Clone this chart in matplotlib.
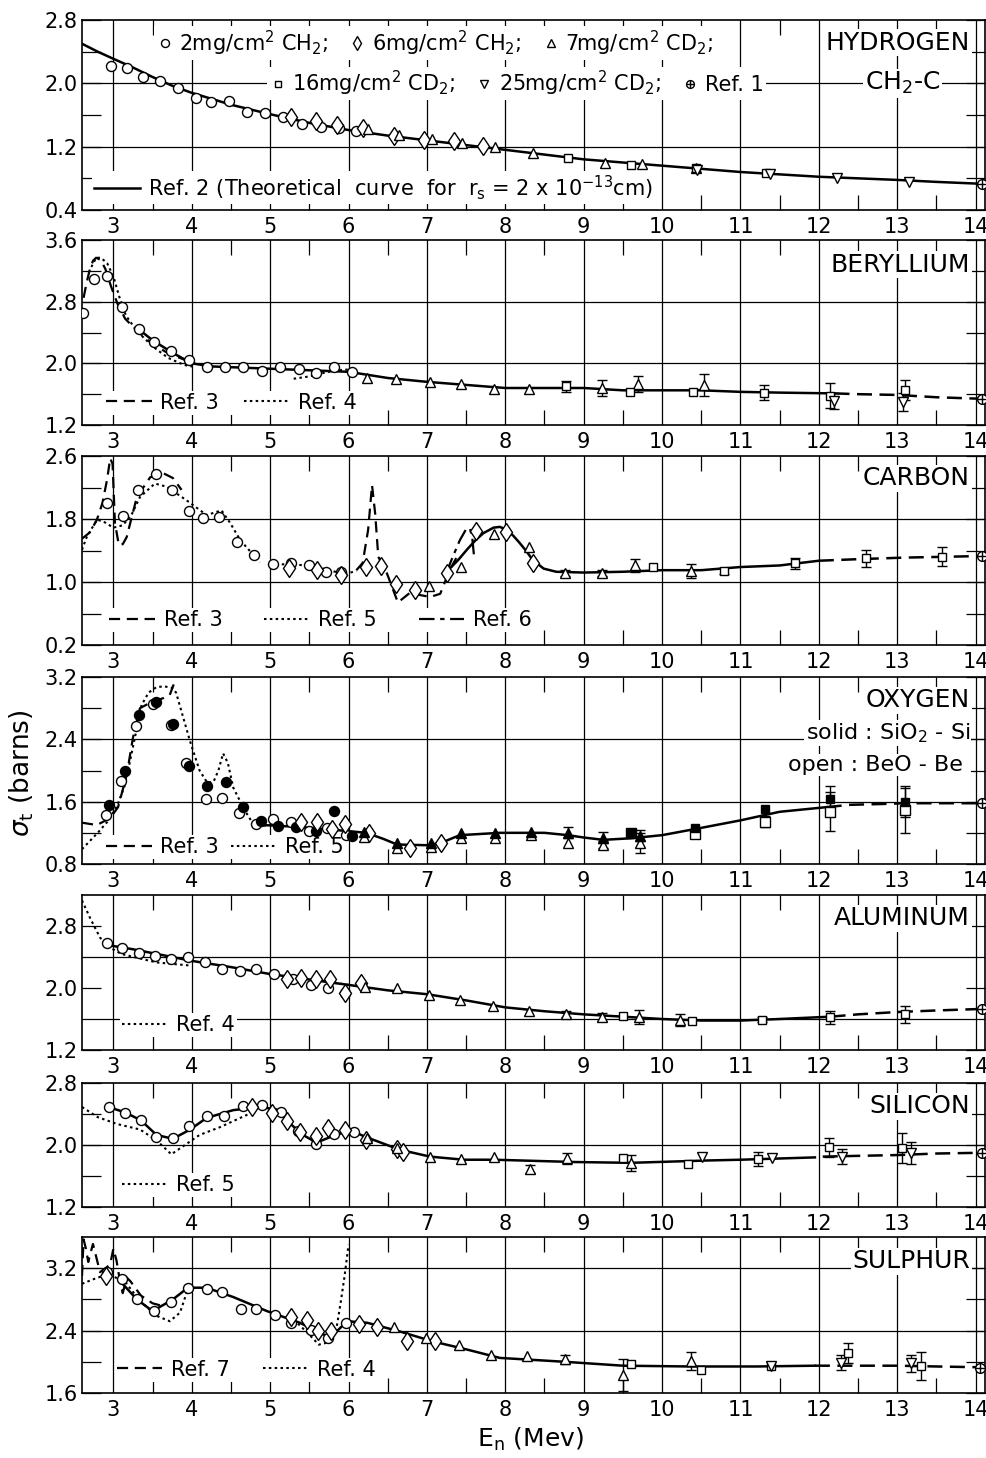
import matplotlib.pyplot as plt
import numpy as np

plt.rcParams['font.family'] = 'DejaVu Sans'
plt.rcParams['mathtext.fontset'] = 'dejavusans'

# ---------------- data (E_n in MeV, sigma_t in barns) ----------------
# Hydrogen
h_circ_x = [2.97, 3.18, 3.38, 3.60, 3.83, 4.06, 4.25, 4.47, 4.71, 4.94, 5.17, 5.41, 5.65, 5.88, 6.10]
h_circ_y = [2.22, 2.19, 2.08, 2.03, 1.94, 1.81, 1.76, 1.78, 1.64, 1.63, 1.58, 1.49, 1.45, 1.43, 1.40]
h_diam_x = [5.27, 5.59, 5.85, 6.19, 6.58, 6.96, 7.35, 7.72]
h_diam_y = [1.57, 1.52, 1.47, 1.43, 1.34, 1.28, 1.27, 1.21]
h_tri_x = [6.25, 6.65, 7.07, 7.45, 7.87, 8.35, 9.27, 9.75, 10.43]
h_tri_y = [1.42, 1.35, 1.30, 1.25, 1.19, 1.12, 1.00, 0.98, 0.93]
h_sq_x = [8.80, 9.60, 10.43, 11.32]
h_sq_y = [1.06, 0.97, 0.93, 0.87]
h_inv_x = [10.44, 11.38, 12.23, 13.15]
h_inv_y = [0.90, 0.85, 0.80, 0.76]
h_ref1 = (14.08, 0.73)
h_curve_x = [2.6, 2.8, 3.0, 3.25, 3.5, 3.75, 4.0, 4.5, 5.0, 5.5, 6.0, 6.5, 7.0, 7.5, 8.0,
             8.5, 9.0, 9.5, 10.0, 10.5, 11.0, 11.5, 12.0, 12.5, 13.0, 13.5, 14.1]
h_curve_y = [2.50, 2.40, 2.31, 2.20, 2.08, 1.97, 1.88, 1.73, 1.61, 1.50, 1.41, 1.34, 1.28, 1.22, 1.16,
             1.10, 1.04, 1.00, 0.96, 0.92, 0.88, 0.85, 0.82, 0.80, 0.78, 0.755, 0.73]

# Beryllium
be_circ_x = [2.61, 2.75, 2.92, 3.11, 3.33, 3.52, 3.74, 3.96, 4.19, 4.43, 4.66, 4.89, 5.12, 5.37, 5.59, 5.82, 6.05]
be_circ_y = [2.65, 3.09, 3.13, 2.73, 2.45, 2.28, 2.16, 2.04, 1.95, 1.95, 1.95, 1.90, 1.95, 1.93, 1.88, 1.95, 1.89]
be_tri_x = [6.23, 6.60, 7.04, 7.43, 7.85, 8.30, 9.24, 9.69, 10.54]
be_tri_y = [1.81, 1.80, 1.76, 1.73, 1.67, 1.67, 1.68, 1.73, 1.72]
be_tri_e = [0, 0, 0, 0, 0, 0, 0.10, 0.10, 0.14]
be_sq_x = [8.77, 9.59, 10.39, 11.30, 12.14, 13.10]
be_sq_y = [1.70, 1.63, 1.63, 1.62, 1.58, 1.66]
be_sq_e = [0.07, 0, 0, 0.10, 0.16, 0.13]
be_inv_x = [12.20, 13.08]
be_inv_y = [1.51, 1.50]
be_inv_e = [0.10, 0.12]
be_ref1 = (14.08, 1.54)
be_solid_x = [3.3, 3.5, 3.75, 4.0, 4.25, 4.5, 5.0, 5.5, 6.0, 6.5, 7.0, 7.5, 8.0, 8.5, 9.0,
              9.5, 10.0, 10.5, 11.0, 11.5, 12.2]
be_solid_y = [2.46, 2.30, 2.14, 2.00, 1.96, 1.95, 1.93, 1.91, 1.89, 1.81, 1.76, 1.72, 1.68, 1.68, 1.68,
              1.65, 1.65, 1.65, 1.63, 1.62, 1.61]
be_dash_x = [12.2, 12.5, 13.0, 13.5, 14.08]
be_dash_y = [1.61, 1.60, 1.59, 1.56, 1.54]
be_ref3_x = [2.62, 2.66, 2.70, 2.74, 2.78, 2.84, 2.90, 2.97, 3.05, 3.15, 3.3, 3.5, 3.7, 3.9, 4.05]
be_ref3_y = [2.85, 3.05, 3.22, 3.33, 3.37, 3.34, 3.22, 3.00, 2.78, 2.58, 2.42, 2.25, 2.13, 2.05, 1.99]
be_ref4_x = [2.72, 2.78, 2.84, 2.92, 3.0, 3.08, 3.16, 3.3, 3.5, 3.7, 3.9, 4.05]
be_ref4_y = [3.25, 3.37, 3.37, 3.30, 3.13, 2.85, 2.62, 2.42, 2.22, 2.07, 1.98, 1.95]
be_ref4b_x = [5.3, 5.5, 5.7, 5.85, 6.0]
be_ref4b_y = [1.80, 1.83, 1.88, 1.91, 1.92]

# Carbon
c_circ_x = [2.92, 3.12, 3.32, 3.54, 3.75, 3.96, 4.15, 4.35, 4.58, 4.80, 5.04, 5.27, 5.50, 5.71, 5.90]
c_circ_y = [2.00, 1.84, 2.17, 2.37, 2.17, 1.90, 1.81, 1.83, 1.51, 1.34, 1.23, 1.24, 1.21, 1.13, 1.13]
c_diam_x = [5.24, 5.60, 5.90, 6.22, 6.42, 6.60, 6.85, 7.26, 7.63, 8.01, 8.35]
c_diam_y = [1.18, 1.15, 1.09, 1.19, 1.20, 0.97, 0.90, 1.12, 1.65, 1.64, 1.24]
c_tri_x = [7.03, 7.43, 7.86, 8.30, 8.76, 9.23, 9.66, 10.37]
c_tri_y = [0.95, 1.19, 1.61, 1.44, 1.11, 1.11, 1.21, 1.14]
c_tri_e = [0, 0, 0, 0, 0.04, 0.04, 0.08, 0.09]
c_sq_x = [9.89, 10.79, 11.70, 12.60, 13.57]
c_sq_y = [1.19, 1.14, 1.24, 1.30, 1.32]
c_sq_e = [0, 0.04, 0.07, 0.11, 0.12]
c_ref1 = (14.08, 1.33)
c_solid_x = [7.27, 7.4, 7.51, 7.62, 7.72, 7.85, 7.93, 8.0, 8.1, 8.18, 8.27, 8.35, 8.49, 8.65,
             9.0, 9.5, 10.0, 10.5, 11.0, 11.5, 12.0]
c_solid_y = [1.15, 1.28, 1.41, 1.53, 1.62, 1.69, 1.70, 1.67, 1.59, 1.50, 1.39, 1.28, 1.17, 1.13,
             1.12, 1.13, 1.15, 1.15, 1.19, 1.21, 1.27]
c_dash_x = [12.0, 12.5, 13.1, 13.6, 14.08]
c_dash_y = [1.27, 1.29, 1.31, 1.32, 1.33]
c_ref3_x = [2.6, 2.7, 2.79, 2.86, 2.92, 2.96, 2.99, 3.02, 3.07, 3.12, 3.17, 3.3, 3.47, 3.64, 3.76, 3.87]
c_ref3_y = [1.55, 1.63, 1.79, 2.00, 2.30, 2.57, 2.50, 1.75, 1.47, 1.48, 1.57, 2.08, 2.33, 2.38, 2.32, 2.17]
c_ref3b_x = [6.10, 6.18, 6.25, 6.30, 6.34, 6.38, 6.49, 6.63, 6.78, 7.04, 7.17, 7.29, 7.4]
c_ref3b_y = [1.15, 1.24, 1.66, 2.23, 1.87, 1.32, 1.11, 0.74, 0.86, 0.81, 0.85, 1.15, 1.35]
c_ref5_x = [2.6, 2.66, 2.79, 2.87, 3.0, 3.12, 3.23, 3.34, 3.53, 3.68, 3.93, 4.19, 4.38, 4.49, 4.62, 4.87]
c_ref5_y = [1.41, 1.57, 1.79, 1.77, 1.69, 1.72, 1.85, 2.08, 2.25, 2.21, 2.04, 1.85, 1.91, 1.75, 1.53, 1.25]
c_ref5b_x = [5.0, 5.3, 5.5, 5.75, 5.95, 6.1]
c_ref5b_y = [1.23, 1.22, 1.21, 1.15, 1.10, 1.14]
c_ref6_x = [7.25, 7.33, 7.42, 7.50, 7.55, 7.58, 7.60]
c_ref6_y = [1.12, 1.32, 1.53, 1.67, 1.68, 1.55, 1.34]

# Oxygen (solid: SiO2-Si, open: BeO-Be)
o_fcirc_x = [2.94, 3.15, 3.33, 3.54, 3.76, 3.96, 4.20, 4.44, 4.65, 4.88, 5.10, 5.33, 5.58, 5.82, 6.05]
o_fcirc_y = [1.56, 2.00, 2.71, 2.88, 2.60, 2.06, 1.80, 1.85, 1.53, 1.35, 1.29, 1.28, 1.22, 1.48, 1.16]
o_ocirc_x = [2.91, 3.10, 3.29, 3.51, 3.73, 3.93, 4.18, 4.38, 4.60, 4.82, 5.04, 5.27, 5.49, 5.72, 5.97]
o_ocirc_y = [1.43, 1.87, 2.57, 2.85, 2.58, 2.10, 1.64, 1.65, 1.46, 1.31, 1.38, 1.34, 1.22, 1.26, 1.17]
o_diam_x = [5.39, 5.60, 5.79, 5.95, 6.26, 6.78, 7.18]
o_diam_y = [1.34, 1.34, 1.25, 1.31, 1.20, 1.01, 1.07]
o_tri_x = [6.20, 6.62, 7.05, 7.43, 7.87, 8.33, 8.80, 9.25, 9.72]
o_ftri_y = [1.21, 1.07, 1.07, 1.20, 1.20, 1.21, 1.20, 1.14, 1.16]
o_ftri_e = [0, 0, 0, 0, 0, 0, 0.07, 0.07, 0.07]
o_otri_y = [1.15, 1.01, 1.02, 1.13, 1.13, 1.17, 1.07, 1.05, 1.07]
o_otri_e = [0, 0, 0, 0, 0, 0, 0, 0.05, 0.13]
o_sq_x = [9.60, 10.42, 11.31, 12.14, 13.10]
o_fsq_y = [1.20, 1.26, 1.50, 1.64, 1.60]
o_fsq_e = [0, 0, 0, 0.16, 0.20]
o_osq_y = [1.20, 1.18, 1.34, 1.47, 1.49]
o_osq_e = [0, 0, 0.07, 0.25, 0.29]
o_ref1 = (14.08, 1.58)
o_solid_x = [4.91, 5.3, 5.8, 6.23, 6.45, 6.62, 7.04, 7.25, 7.42, 7.93, 8.5, 8.8, 9.0, 9.25, 9.6,
             10.0, 10.48, 11.0, 11.5, 12.1]
o_solid_y = [1.30, 1.28, 1.24, 1.20, 1.12, 1.05, 1.04, 1.10, 1.17, 1.20, 1.20, 1.17, 1.14, 1.11, 1.13,
             1.17, 1.26, 1.36, 1.47, 1.53]
o_dash_x = [12.1, 12.4, 12.8, 13.1, 13.5, 14.08]
o_dash_y = [1.53, 1.56, 1.57, 1.58, 1.58, 1.58]
o_ref3_x = [2.6, 2.79, 2.96, 3.06, 3.17, 3.25, 3.34, 3.47, 3.64, 3.72, 3.79]
o_ref3_y = [1.33, 1.30, 1.39, 1.53, 1.94, 2.42, 2.80, 2.87, 2.93, 2.97, 3.16]
o_ref5_x = [2.6, 2.8, 2.94, 3.05, 3.15, 3.26, 3.36, 3.45, 3.55, 3.65, 3.75, 3.8, 3.9, 3.98, 4.1,
            4.2, 4.28, 4.34, 4.40, 4.46, 4.53, 4.62, 4.7, 4.78, 4.96]
o_ref5_y = [0.99, 1.20, 1.36, 1.55, 1.82, 2.35, 2.84, 3.00, 3.07, 3.08, 3.06, 3.00, 2.65, 2.37, 2.00,
            1.84, 1.86, 2.00, 2.22, 2.10, 1.78, 1.60, 1.45, 1.32, 1.29]

# Aluminum
al_circ_x = [2.92, 3.11, 3.33, 3.53, 3.74, 3.95, 4.17, 4.39, 4.62, 4.82, 5.05, 5.29, 5.52, 5.74, 5.96]
al_circ_y = [2.575, 2.52, 2.45, 2.41, 2.38, 2.40, 2.33, 2.24, 2.22, 2.24, 2.18, 2.11, 2.04, 2.00, 1.93]
al_diam_x = [5.22, 5.40, 5.59, 5.76, 5.96, 6.16]
al_diam_y = [2.11, 2.13, 2.11, 2.12, 1.93, 2.06]
al_tri_x = [6.21, 6.62, 7.03, 7.42, 7.84, 8.30, 8.78, 9.24, 9.70, 10.23]
al_tri_y = [2.01, 2.00, 1.91, 1.84, 1.77, 1.70, 1.66, 1.63, 1.63, 1.59]
al_tri_e = [0, 0, 0, 0, 0, 0, 0.04, 0.05, 0.09, 0.08]
al_sq_x = [9.50, 10.38, 11.27, 12.14, 13.10]
al_sq_y = [1.64, 1.58, 1.59, 1.62, 1.66]
al_sq_e = [0, 0, 0.03, 0.08, 0.11]
al_ref1 = (14.08, 1.73)
al_solid_x = [2.95, 3.25, 3.5, 4.0, 4.5, 5.0, 5.5, 6.0, 6.5, 7.0, 7.5, 8.0, 8.5, 9.0, 9.5, 10.0,
              10.5, 11.0, 11.5, 12.15]
al_solid_y = [2.55, 2.50, 2.45, 2.35, 2.27, 2.18, 2.11, 2.04, 1.97, 1.92, 1.84, 1.75, 1.70, 1.66, 1.63, 1.60,
              1.58, 1.58, 1.60, 1.63]
al_dash_x = [12.15, 12.5, 13.0, 13.5, 14.08]
al_dash_y = [1.63, 1.66, 1.69, 1.71, 1.73]
al_ref4_x = [2.6, 2.7, 2.83, 2.96, 3.1, 3.26, 3.55, 3.98]
al_ref4_y = [3.13, 2.91, 2.65, 2.52, 2.44, 2.40, 2.33, 2.29]
al_ref4b_x = [5.6, 5.8, 6.0]
al_ref4b_y = [2.10, 2.07, 2.04]

# Silicon
si_circ_x = [2.94, 3.15, 3.35, 3.55, 3.76, 3.96, 4.19, 4.41, 4.66, 4.89, 5.14, 5.35, 5.59, 5.82, 6.07]
si_circ_y = [2.49, 2.41, 2.32, 2.10, 2.09, 2.24, 2.37, 2.37, 2.50, 2.51, 2.43, 2.18, 2.01, 2.14, 2.17]
si_diam_x = [4.77, 5.03, 5.22, 5.38, 5.59, 5.74, 5.95, 6.22, 6.62, 6.70]
si_diam_y = [2.49, 2.41, 2.31, 2.17, 2.12, 2.22, 2.19, 2.06, 1.95, 1.91]
si_tri_x = [6.23, 6.62, 7.04, 7.43, 7.86, 8.32, 8.79, 9.60]
si_tri_y = [2.09, 1.96, 1.85, 1.82, 1.85, 1.69, 1.83, 1.77]
si_tri_e = [0, 0, 0, 0, 0, 0.05, 0.07, 0.10]
si_sq_x = [9.50, 10.33, 11.23, 12.13, 13.06]
si_sq_y = [1.83, 1.75, 1.82, 1.97, 1.96]
si_sq_e = [0, 0, 0.09, 0.12, 0.19]
si_inv_x = [10.51, 11.40, 12.30, 13.18]
si_inv_y = [1.84, 1.83, 1.85, 1.90]
si_inv_e = [0, 0, 0.10, 0.14]
si_ref1 = (14.08, 1.90)
si_solid_x = [2.94, 3.15, 3.35, 3.55, 3.76, 3.98, 4.19, 4.53, 4.87, 5.08, 5.25, 5.42, 5.59, 5.81, 6.02,
              6.23, 6.65, 7.04, 7.47, 7.86, 8.9, 9.6, 10.57, 11.0, 11.63, 11.95]
si_solid_y = [2.49, 2.42, 2.32, 2.13, 2.08, 2.20, 2.35, 2.45, 2.49, 2.46, 2.28, 2.13, 2.03, 2.12, 2.19,
              2.10, 1.94, 1.85, 1.81, 1.81, 1.78, 1.77, 1.80, 1.81, 1.83, 1.84]
si_dash_x = [12.05, 12.5, 13.0, 13.5, 14.08]
si_dash_y = [1.85, 1.86, 1.87, 1.89, 1.90]
si_ref5_x = [2.6, 2.8, 3.05, 3.34, 3.55, 3.74, 3.87, 4.1, 4.36, 4.75]
si_ref5_y = [2.49, 2.36, 2.27, 2.20, 2.06, 1.88, 1.97, 2.13, 2.23, 2.41]

# Sulphur
s_circ_x = [2.92, 3.11, 3.30, 3.52, 3.73, 3.95, 4.19, 4.38, 4.63, 4.82, 5.06, 5.27, 5.52, 5.74, 5.97]
s_circ_y = [3.15, 3.06, 2.80, 2.65, 2.77, 2.95, 2.93, 2.90, 2.68, 2.68, 2.60, 2.50, 2.41, 2.30, 2.50]
s_diam_x = [2.91, 5.27, 5.47, 5.61, 5.78, 6.14, 6.36, 6.74, 7.10]
s_diam_y = [3.10, 2.58, 2.54, 2.40, 2.39, 2.49, 2.44, 2.27, 2.27]
s_tri_x = [6.58, 6.99, 7.41, 7.82, 8.28, 8.76, 9.50, 10.37]
s_tri_y = [2.45, 2.30, 2.22, 2.09, 2.08, 2.03, 1.83, 2.01]
s_tri_e = [0, 0, 0, 0, 0, 0.06, 0.20, 0.11]
s_sq_x = [9.60, 10.50, 11.39, 12.37, 13.30]
s_sq_y = [1.97, 1.90, 1.94, 2.11, 1.95]
s_sq_e = [0, 0, 0, 0.13, 0.18]
s_inv_x = [11.39, 12.28, 13.17]
s_inv_y = [1.94, 1.99, 1.98]
s_inv_e = [0, 0.10, 0.11]
s_ref1 = (14.06, 1.92)
s_solid_x = [3.10, 3.30, 3.5, 3.76, 3.95, 4.19, 4.53, 4.96, 5.38, 5.64, 5.77, 5.9, 5.99, 6.24, 6.65,
             7.08, 7.5, 7.93, 8.76, 9.5, 10.36, 11.2, 11.95]
s_solid_y = [3.02, 2.80, 2.65, 2.80, 2.95, 2.95, 2.83, 2.65, 2.50, 2.37, 2.31, 2.44, 2.52, 2.50, 2.39,
             2.26, 2.16, 2.05, 2.00, 1.95, 1.94, 1.94, 1.95]
s_dash_x = [11.95, 12.5, 13.0, 13.5, 14.06]
s_dash_y = [1.95, 1.95, 1.95, 1.94, 1.93]
s_ref7_x = [2.6, 2.62, 2.65, 2.68, 2.71, 2.74, 2.78, 2.83, 2.9, 2.96, 3.0, 3.04, 3.08, 3.12, 3.17,
            3.22, 3.35, 3.5, 3.65]
s_ref7_y = [3.10, 3.57, 3.45, 3.28, 3.40, 3.51, 3.35, 3.15, 3.20, 3.25, 3.45, 3.30, 3.06, 2.88, 3.08,
            3.03, 2.85, 2.75, 2.71]
s_ref4_x = [2.6, 2.8, 2.96, 3.17, 3.34, 3.55, 3.72, 3.85, 3.95, 4.0]
s_ref4_y = [3.00, 3.08, 3.12, 3.00, 2.78, 2.59, 2.52, 2.63, 2.93, 3.00]
s_ref4b_x = [5.3, 5.48, 5.62, 5.75, 5.85, 5.9, 5.95, 6.0]
s_ref4b_y = [2.54, 2.37, 2.22, 2.25, 2.45, 2.76, 3.10, 3.50]

# ---------------- styles ----------------
XMIN, XMAX = 2.6, 14.12
DASH = (0, (5, 3))
DOT = (0, (1.2, 1.6))
DASHDOT = (0, (7, 2.5, 2, 2.5))
EXTRA = (0, (6, 3))
FS = 15
MS_O, MS_D, MS_T, MS_S = 7.2, 9.5, 7.5, 6


def frame(ax, ylim, ylab, ygrid, yshort):
    ax.set_xlim(XMIN, XMAX)
    ax.set_ylim(*ylim)
    for x in range(3, 15):
        ax.axvline(x, color='k', lw=0.9, zorder=0.5)
    for y in ygrid:
        ax.axhline(y, color='k', lw=0.9, zorder=0.5)
    ax.set_xticks(range(3, 15))
    ax.set_xticks(np.arange(3.5, 14, 1.0), minor=True)
    ax.set_yticks(ylab)
    ax.set_yticklabels(['%.1f' % v for v in ylab])
    ax.set_yticks([v for v in yshort if v not in ylab], minor=True)
    ax.tick_params(axis='x', which='major', length=0, pad=5, labelsize=FS)
    ax.tick_params(axis='x', which='minor', length=11, width=0.9, direction='in',
                   top=True, bottom=True)
    ax.tick_params(axis='y', which='both', length=14, width=0.9, direction='in',
                   left=True, right=True, labelsize=FS, pad=3)
    for s in ax.spines.values():
        s.set_linewidth(1.2)


def pts(ax, x, y, m, err=None, filled=False, ms=MS_O):
    x = np.asarray(x)
    y = np.asarray(y)
    if err is not None:
        e = np.asarray(err)
        k = e > 0
        ax.errorbar(x[k], y[k], yerr=e[k], fmt='none', ecolor='k', elinewidth=1,
                    capsize=3.5, capthick=1, zorder=3)
    return ax.plot(x, y, ls='none', marker=m, ms=ms, mfc='k' if filled else 'white',
                   mec='k', mew=1, zorder=4)[0]


def ref1(ax, p):
    a = ax.plot([p[0]], [p[1]], ls='none', marker='o', ms=7, mfc='white', mec='k', mew=1, zorder=4)[0]
    b = ax.plot([p[0]], [p[1]], ls='none', marker='+', ms=7, mec='k', mew=1, zorder=5)[0]
    return (a, b)


def curve(ax, x, y, style='-', lw=1.6):
    return ax.plot(x, y, color='k', lw=lw, ls=style, zorder=2)[0]


def reflegend(ax, handles, labels, x, y, **kw):
    opts = dict(loc='center left', bbox_to_anchor=(x, y), ncol=len(handles), frameon=True,
                fancybox=False, edgecolor='none', facecolor='white', framealpha=1, fontsize=FS,
                handlelength=2.2, handletextpad=0.4, columnspacing=1.2, borderpad=0.1,
                borderaxespad=0)
    opts.update(kw)
    lg = ax.legend(handles, labels, **opts)
    lg.set_zorder(3)
    ax.add_artist(lg)
    return lg


def tag(ax, s, y, x=13.93, ha='right', size=18):
    ax.text(x, y, s, ha=ha, va='center', fontsize=size, zorder=3,
            bbox=dict(facecolor='white', edgecolor='none', pad=1))


def pos(top, bot):
    return [82 / 987, 1 - bot / 1458, 903 / 987, (bot - top) / 1458]


fig = plt.figure(figsize=(9.87, 14.58), dpi=100)

# ---- Hydrogen ----
ax = fig.add_axes(pos(20, 210))
frame(ax, (0.4, 2.8), [2.8, 2.0, 1.2, 0.4], [2.0, 1.2], [2.4, 1.6, 0.8])
hl = curve(ax, h_curve_x, h_curve_y, '-', 1.8)
hc = pts(ax, h_circ_x, h_circ_y, 'o')
hd = pts(ax, h_diam_x, h_diam_y, 'd', ms=MS_D)
ht = pts(ax, h_tri_x, h_tri_y, '^', ms=MS_T)
hs = pts(ax, h_sq_x, h_sq_y, 's', ms=MS_S)
hv = pts(ax, h_inv_x, h_inv_y, 'v', ms=MS_T)
hr = ref1(ax, h_ref1)
mk = dict(handlelength=0.8, handletextpad=0.3, columnspacing=1.0, markerscale=0.8, numpoints=1)
reflegend(ax, [hc, hd, ht], ['2mg/cm$^2$ CH$_2$;', '6mg/cm$^2$ CH$_2$;', '7mg/cm$^2$ CD$_2$;'],
          0.08, 0.879, **mk)
reflegend(ax, [hs, hv, hr], ['16mg/cm$^2$ CD$_2$;', '25mg/cm$^2$ CD$_2$;', 'Ref. 1'],
          0.205, 0.667, **mk)
reflegend(ax, [hl], [r'Ref. 2 (Theoretical  curve  for  r$_{\mathrm{s}}$ = 2 x 10$^{-13}$cm)'],
          0.011, 0.117)
tag(ax, 'HYDROGEN', 2.51)
tag(ax, 'CH$_2$-C', 2.0, x=13.07, ha='center')

# ---- Beryllium ----
ax = fig.add_axes(pos(240, 425))
frame(ax, (1.2, 3.6), [3.6, 2.8, 2.0, 1.2], [2.8, 2.0], [3.2, 2.4, 1.6])
curve(ax, be_solid_x, be_solid_y, '-', 1.8)
curve(ax, be_dash_x, be_dash_y, EXTRA, 1.8)
l3 = curve(ax, be_ref3_x, be_ref3_y, DASH)
l4 = curve(ax, be_ref4_x, be_ref4_y, DOT, 1.5)
curve(ax, be_ref4b_x, be_ref4b_y, DOT, 1.5)
pts(ax, be_circ_x, be_circ_y, 'o')
pts(ax, be_tri_x, be_tri_y, '^', be_tri_e, ms=MS_T)
pts(ax, be_sq_x, be_sq_y, 's', be_sq_e, ms=MS_S)
pts(ax, be_inv_x, be_inv_y, 'v', be_inv_e, ms=MS_T)
ref1(ax, be_ref1)
reflegend(ax, [l3, l4], ['Ref. 3', 'Ref. 4'], 0.024, 0.121)
tag(ax, 'BERYLLIUM', 3.28)

# ---- Carbon ----
ax = fig.add_axes(pos(456, 645))
frame(ax, (0.2, 2.6), [2.6, 1.8, 1.0, 0.2], [1.8, 1.0], [2.2, 1.4, 0.6])
curve(ax, c_solid_x, c_solid_y, '-', 1.8)
curve(ax, c_dash_x, c_dash_y, EXTRA, 1.8)
l3 = curve(ax, c_ref3_x, c_ref3_y, DASH)
curve(ax, c_ref3b_x, c_ref3b_y, DASH)
l5 = curve(ax, c_ref5_x, c_ref5_y, DOT, 1.5)
curve(ax, c_ref5b_x, c_ref5b_y, DOT, 1.5)
l6 = curve(ax, c_ref6_x, c_ref6_y, DASHDOT)
pts(ax, c_circ_x, c_circ_y, 'o')
pts(ax, c_diam_x, c_diam_y, 'd', ms=MS_D)
pts(ax, c_tri_x, c_tri_y, '^', c_tri_e, ms=MS_T)
pts(ax, c_sq_x, c_sq_y, 's', c_sq_e, ms=MS_S)
ref1(ax, c_ref1)
reflegend(ax, [l3, l5, l6], ['Ref. 3', 'Ref. 5', 'Ref. 6'], 0.028, 0.133, columnspacing=2.0)
tag(ax, 'CARBON', 2.32)

# ---- Oxygen ----
ax = fig.add_axes(pos(677, 864))
frame(ax, (0.8, 3.2), [3.2, 2.4, 1.6, 0.8], [2.4, 1.6], [2.8, 2.0, 1.2])
curve(ax, o_solid_x, o_solid_y, '-', 1.8)
curve(ax, o_dash_x, o_dash_y, EXTRA, 1.8)
l3 = curve(ax, o_ref3_x, o_ref3_y, DASH)
l5 = curve(ax, o_ref5_x, o_ref5_y, DOT, 1.5)
pts(ax, o_ocirc_x, o_ocirc_y, 'o')
pts(ax, o_fcirc_x, o_fcirc_y, 'o', filled=True)
pts(ax, o_diam_x, o_diam_y, 'd', ms=MS_D)
pts(ax, o_tri_x, o_otri_y, '^', o_otri_e, ms=MS_T)
pts(ax, o_tri_x, o_ftri_y, '^', o_ftri_e, filled=True, ms=MS_T)
pts(ax, o_sq_x, o_osq_y, 's', o_osq_e, ms=7)
pts(ax, o_sq_x, o_fsq_y, 's', o_fsq_e, filled=True, ms=5.5)
ref1(ax, o_ref1)
reflegend(ax, [l3, l5], ['Ref. 3', 'Ref. 5'], 0.024, 0.092, columnspacing=0.6)
tag(ax, 'OXYGEN', 2.9)
tag(ax, 'solid : SiO$_2$ - Si', 2.48, size=16)
tag(ax, 'open : BeO - Be ', 2.07, size=16)

# ---- Aluminum ----
ax = fig.add_axes(pos(895, 1050))
frame(ax, (1.2, 3.2), [2.8, 2.0, 1.2], [2.4, 1.6], [2.8, 2.0])
curve(ax, al_solid_x, al_solid_y, '-', 1.8)
curve(ax, al_dash_x, al_dash_y, EXTRA, 1.8)
l4 = curve(ax, al_ref4_x, al_ref4_y, DOT, 1.5)
curve(ax, al_ref4b_x, al_ref4b_y, DOT, 1.5)
pts(ax, al_circ_x, al_circ_y, 'o')
pts(ax, al_diam_x, al_diam_y, 'd', ms=MS_D)
pts(ax, al_tri_x, al_tri_y, '^', al_tri_e, ms=MS_T)
pts(ax, al_sq_x, al_sq_y, 's', al_sq_e, ms=MS_S)
ref1(ax, al_ref1)
reflegend(ax, [l4], ['Ref. 4'], 0.042, 0.16)
tag(ax, 'ALUMINUM', 2.9)

# ---- Silicon ----
ax = fig.add_axes(pos(1083, 1207))
frame(ax, (1.2, 2.8), [2.8, 2.0, 1.2], [2.0], [2.4, 1.6])
curve(ax, si_solid_x, si_solid_y, '-', 1.8)
curve(ax, si_dash_x, si_dash_y, EXTRA, 1.8)
l5 = curve(ax, si_ref5_x, si_ref5_y, DOT, 1.5)
pts(ax, si_circ_x, si_circ_y, 'o')
pts(ax, si_diam_x, si_diam_y, 'd', ms=MS_D)
pts(ax, si_tri_x, si_tri_y, '^', si_tri_e, ms=MS_T)
pts(ax, si_sq_x, si_sq_y, 's', si_sq_e, ms=MS_S)
pts(ax, si_inv_x, si_inv_y, 'v', si_inv_e, ms=MS_T)
ref1(ax, si_ref1)
reflegend(ax, [l5], ['Ref. 5'], 0.042, 0.175)
tag(ax, 'SILICON', 2.5)

# ---- Sulphur ----
ax = fig.add_axes(pos(1237, 1393))
frame(ax, (1.6, 3.6), [3.2, 2.4, 1.6], [3.2, 2.4], [2.8, 2.0])
curve(ax, s_solid_x, s_solid_y, '-', 1.8)
curve(ax, s_dash_x, s_dash_y, EXTRA, 1.8)
l7 = curve(ax, s_ref7_x, s_ref7_y, DASH)
l4 = curve(ax, s_ref4_x, s_ref4_y, DOT, 1.5)
curve(ax, s_ref4b_x, s_ref4b_y, DOT, 1.5)
pts(ax, s_circ_x, s_circ_y, 'o')
pts(ax, s_diam_x, s_diam_y, 'd', ms=MS_D)
pts(ax, s_tri_x, s_tri_y, '^', s_tri_e, ms=MS_T)
pts(ax, s_sq_x, s_sq_y, 's', s_sq_e, ms=MS_S)
pts(ax, s_inv_x, s_inv_y, 'v', s_inv_e, ms=MS_T)
ref1(ax, s_ref1)
reflegend(ax, [l7, l4], ['Ref. 7', 'Ref. 4'], 0.036, 0.15, columnspacing=1.6)
tag(ax, 'SULPHUR', 3.29)

fig.text(0.022, 0.47, r'$\sigma_{\mathrm{t}}$ (barns)', rotation=90, ha='center', va='center', fontsize=19)
fig.text(0.537, 0.013, r'E$_{\mathrm{n}}$ (Mev)', ha='center', va='center', fontsize=18)

fig.savefig('out.png', dpi=100)
